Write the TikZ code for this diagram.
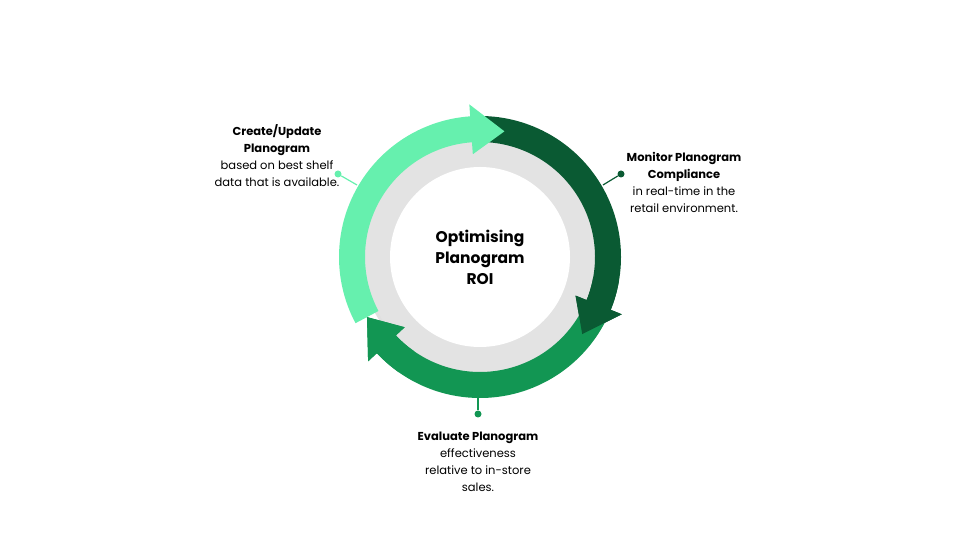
\documentclass[tikz,border=0pt]{standalone}
\usepackage{fontspec}
\setmainfont{Poppins}
\usetikzlibrary{positioning}
\definecolor{lightgreen}{HTML}{66F0AE}
\definecolor{darkgreen}{HTML}{0A5A33}
\definecolor{midgreen}{HTML}{129653}
\definecolor{ringgray}{HTML}{E3E3E3}
% band arrow running clockwise from #2 to #3 (degrees), around (c)
\newcommand{\bandarrow}[4][15]{%
  \fill[#4] ([shift={(#2:141)}]c) arc[start angle=#2,end angle=#3+#1,radius=141]
    -- ([shift={(#3+#1:153)}]c) -- ([shift={(#3:128)}]c) -- ([shift={(#3+#1:103)}]c)
    -- ([shift={(#3+#1:115)}]c) arc[start angle=#3+#1,end angle=#2,radius=115] -- cycle;}
\begin{document}
\begin{tikzpicture}[x=1pt,y=1pt,
    lbl/.style={align=center,font=\fontsize{11.5}{17}\selectfont},
    dot/.style={circle,fill,inner sep=0pt,minimum size=7pt}]
  \useasboundingbox (0,0) rectangle (960,540);
  \coordinate (c) at (480,283);
  % disc
  \fill[black!12] ([yshift=-2]c) circle (118);
  \fill[ringgray] (c) circle (116);
  \fill[white] (c) circle (90);
  \node[font=\bfseries\fontsize{15.5}{21}\selectfont,align=center] (title) at (c) {Optimising\\Planogram\\ROI};
  % arrows
  \bandarrow{92}{-37}{darkgreen}
  \bandarrow{-25}{-152}{midgreen}
  \bandarrow{208}{79}{lightgreen}
  \bandarrow{-125}{-152}{midgreen}
  \bandarrow{-10}{-37}{darkgreen}
  % connectors
  \node[dot,lightgreen] (d1) at (338,366) {};
  \coordinate (e1) at (357,355);
  \draw[lightgreen,line width=1.2pt] (d1) -- (e1);
  \node[dot,darkgreen] (d2) at (621,366) {};
  \coordinate (e2) at (603,355);
  \draw[darkgreen,line width=1.2pt] (d2) -- (e2);
  \node[dot,midgreen] (d3) at (478,126) {};
  \coordinate (e3) at (478,144);
  \draw[midgreen,line width=1.2pt] (d3) -- (e3);
  % texts
  \node[lbl] (t1) at (277,384) {\textbf{Create/Update}\\\textbf{Planogram}\\based on best shelf\\data that is available.};
  \node[lbl] (t2) at (684,358) {\textbf{Monitor Planogram}\\\textbf{Compliance}\\in real-time in the\\retail environment.};
  \node[lbl] (t3) at (478,78) {\textbf{Evaluate Planogram}\\effectiveness\\relative to in-store\\sales.};
\end{tikzpicture}
\end{document}
